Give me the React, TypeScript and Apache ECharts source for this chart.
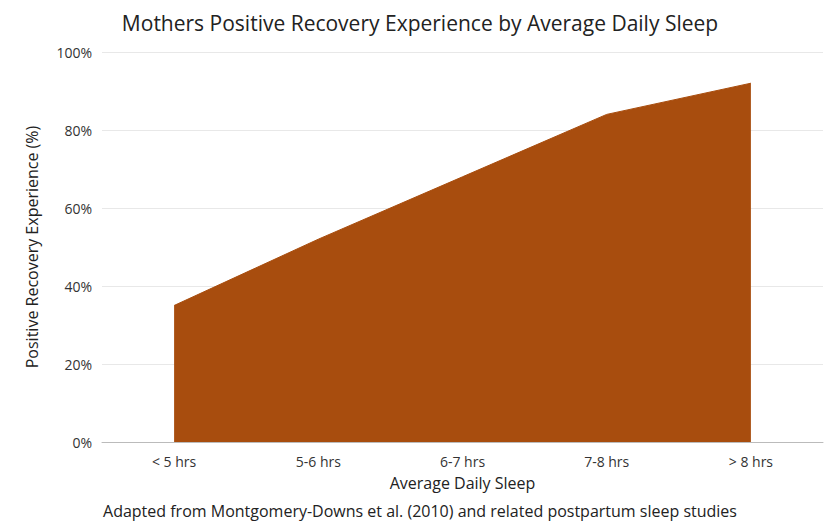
import React, { useEffect, useRef } from "react";
import * as echarts from "echarts";

const categories = ["< 5 hrs", "5-6 hrs", "6-7 hrs", "7-8 hrs", "> 8 hrs"];
const recoveryValues = [35, 52, 68, 84, 92];
const yTicks = [0, 20, 40, 60, 80, 100];

const FONT = "'Open Sans', Inter, sans-serif";

const App = () => {
  const chartRef = useRef<HTMLDivElement>(null);

  useEffect(() => {
    const chart = echarts.init(chartRef.current, null, { renderer: "svg" });
    chart.setOption({
      animation: false,
      textStyle: { fontFamily: FONT },
      title: {
        text: "Mothers Positive Recovery Experience by Average Daily Sleep",
        left: "center",
        top: -1,
        textStyle: { fontSize: 21, fontWeight: "normal", color: "#222", fontFamily: FONT },
      },
      graphic: [
        {
          type: "text",
          left: "center",
          top: 495,
          style: {
            text: "Adapted from Montgomery-Downs et al. (2010) and related postpartum sleep studies",
            fontSize: 16,
            fill: "#222",
            fontFamily: FONT,
          },
        },
      ],
      grid: { left: 94, right: 9, top: 44, bottom: 97 },
      xAxis: {
        type: "category",
        data: categories,
        boundaryGap: true,
        name: "Average Daily Sleep",
        nameLocation: "middle",
        nameGap: 33,
        nameTextStyle: { fontSize: 16, color: "#222" },
        axisLine: { lineStyle: { color: "#bbb" } },
        axisTick: { show: false },
        axisLabel: { fontSize: 14, color: "#333", margin: 12 },
      },
      yAxis: {
        type: "value",
        min: 0,
        max: 100,
        interval: 20,
        name: "Positive Recovery Experience (%)",
        nameLocation: "middle",
        nameGap: 62,
        nameTextStyle: { fontSize: 16, color: "#222" },
        axisLine: { show: false },
        axisTick: { show: false },
        axisLabel: {
          fontSize: 14,
          color: "#333",
          margin: 10,
          formatter: (v: number) => (yTicks.includes(v) ? `${v}%` : ""),
        },
        splitLine: { lineStyle: { color: "#e8e8e8" } },
      },
      series: [
        {
          type: "line",
          data: recoveryValues,
          symbol: "none",
          lineStyle: { color: "#A84D0E", width: 1 },
          areaStyle: { color: "#A84D0E", opacity: 1 },
        },
      ],
    });
    return () => chart.dispose();
  }, []);

  return <div ref={chartRef} style={{ width: 824, height: 531 }} />;
};

export default App;
